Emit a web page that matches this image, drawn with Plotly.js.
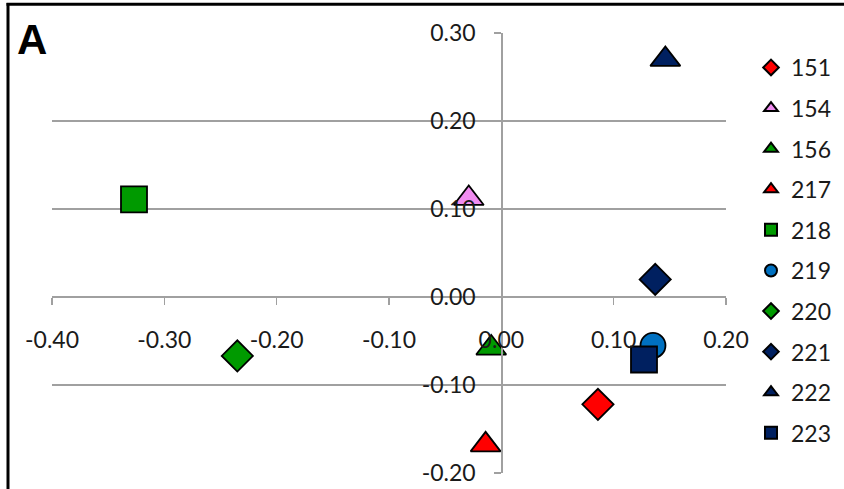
<!DOCTYPE html>
<html>
<head>
<meta charset="utf-8">
<script src="https://cdn.plot.ly/plotly-3.0.1.min.js"></script>
<style>
  html, body { margin: 0; padding: 0; background: #fff; }
  #chart { width: 844px; height: 489px; }
</style>
</head>
<body>
<div id="chart"></div>
<script>
// Sample labels
const sampleNames = ['151', '154', '156', '217', '218', '219', '220', '221', '222', '223'];
// X coordinates (component 1)
const xValues = [0.086, -0.029, -0.009, -0.014, -0.327, 0.135, -0.235, 0.137, 0.146, 0.127];
// Y coordinates (component 2)
const yValues = [-0.122, 0.112, -0.058, -0.168, 0.111, -0.055, -0.067, 0.020, 0.270, -0.071];
// Marker symbols per sample
const markerSymbols = ['diamond', 'triangle-up', 'triangle-up', 'triangle-up', 'square', 'circle', 'diamond', 'diamond', 'triangle-up', 'square'];
// Marker fill colours per sample
const markerColors = ['#ff0000', '#f08cf0', '#009a00', '#ff0000', '#009a00', '#0070c0', '#009a00', '#002060', '#002060', '#002060'];
// Axis tick values and labels
const xTicks = [-0.4, -0.3, -0.2, -0.1, 0.0, 0.1, 0.2];
const xTickLabels = ['-0.40', '-0.30', '-0.20', '-0.10', '0.00', '0.10', '0.20'];
const yTicks = [-0.2, -0.1, 0.0, 0.1, 0.2, 0.3];
const yTickLabels = ['-0.20', '-0.10', '0.00', '0.10', '0.20', '0.30'];
const panelLabel = 'A';

const sizeBySymbol = { 'diamond': 24, 'triangle-up': 26, 'square': 26, 'circle': 25 };

const traces = sampleNames.map((name, i) => ({
  type: 'scatter',
  mode: 'markers',
  name: name,
  legendgroup: name,
  x: [xValues[i]],
  y: [yValues[i]],
  marker: {
    symbol: markerSymbols[i],
    color: markerColors[i],
    size: sizeBySymbol[markerSymbols[i]],
    line: { color: '#000000', width: 1.8 }
  },
  hoverinfo: 'name+x+y'
}));

const W = 844, H = 489;
const M = { l: 52, r: 118, t: 33, b: 16, autoexpand: false };
const pw = W - M.l - M.r, ph = H - M.t - M.b;
const px2x = p => (p - M.l) / pw;
const px2y = p => 1 - (p - M.t) / ph;

const FONT = 'Lato, "Open Sans", sans-serif';
const gridGray = '#a0a0a0';

const layout = {
  width: W,
  height: H,
  margin: M,
  paper_bgcolor: '#ffffff',
  plot_bgcolor: '#ffffff',
  font: { family: FONT, size: 23, color: '#1a1a1a' },
  showlegend: true,
  xaxis: {
    range: [-0.4, 0.2],
    tickmode: 'array',
    tickvals: xTicks,
    ticktext: xTickLabels,
    showgrid: false,
    zeroline: false,
    showline: true,
    linecolor: gridGray,
    linewidth: 1.3,
    ticks: 'outside',
    ticklen: 7,
    tickwidth: 1.3,
    tickcolor: gridGray,
    anchor: 'free',
    position: 0.4,
    ticklabelstandoff: 15,
    fixedrange: true
  },
  yaxis: {
    range: [-0.2, 0.3],
    tickmode: 'array',
    tickvals: yTicks,
    ticktext: yTickLabels,
    showgrid: true,
    gridcolor: gridGray,
    gridwidth: 1.3,
    zeroline: false,
    showline: true,
    linecolor: gridGray,
    linewidth: 1.3,
    ticks: 'outside',
    ticklen: 7,
    tickwidth: 1.3,
    tickcolor: gridGray,
    anchor: 'free',
    position: 2 / 3,
    ticklabelstandoff: 14,
    fixedrange: true
  },
  legend: {
    x: px2x(751),
    xanchor: 'left',
    y: px2y(46),
    yanchor: 'top',
    bgcolor: 'rgba(0,0,0,0)',
    borderwidth: 0,
    itemsizing: 'constant',
    tracegroupgap: 7.7,
    font: { family: FONT, size: 23, color: '#1a1a1a' }
  },
  annotations: [{
    text: '<b>' + panelLabel + '</b>',
    xref: 'paper', yref: 'paper',
    x: px2x(15), xanchor: 'left',
    y: px2y(39), yanchor: 'middle',
    showarrow: false,
    font: { family: '"Liberation Sans", Arial, sans-serif', size: 42, color: '#000000' }
  }],
  shapes: [
    { type: 'line', xref: 'paper', yref: 'paper', x0: px2x(8), x1: px2x(8), y0: px2y(3), y1: px2y(500), line: { color: '#000000', width: 3 } },
    { type: 'line', xref: 'paper', yref: 'paper', x0: px2x(6.5), x1: px2x(860), y0: px2y(4.3), y1: px2y(4.3), line: { color: '#000000', width: 3 } }
  ]
};

Plotly.newPlot('chart', traces, layout, { displayModeBar: false, staticPlot: true });
</script>
</body>
</html>
